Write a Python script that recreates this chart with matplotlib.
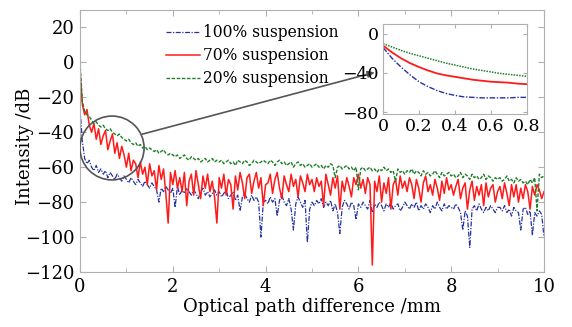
import numpy as np
import matplotlib
matplotlib.use("Agg")
import matplotlib.pyplot as plt
from matplotlib.patches import Ellipse

plt.rcParams['font.family'] = ['DejaVu Serif']
plt.rcParams['mathtext.fontset'] = 'dejavuserif'

# ---- data ----
x_step = 0.05
green_20 = [0, -22, -28, -30, -31, -33, -35, -34, -36, -37, -36, -38, -39, -38, -40, -41, -42, -41, -43, -44, -45,
            -44, -46, -47, -46, -48, -47, -49, -48, -50, -49, -50, -51, -50, -52, -51, -50, -52, -53, -52, -53,
            -54, -53, -55, -54, -53, -55, -56, -54, -55, -56, -55, -57, -56, -55, -57, -56, -55, -57, -56, -57,
            -56, -58, -57, -56, -58, -57, -59, -56, -57, -58, -56, -57, -59, -58, -56, -57, -58, -57, -56, -57,
            -58, -56, -57, -59, -57, -56, -58, -57, -59, -58, -57, -60, -58, -57, -59, -58, -60, -59, -58, -60,
            -59, -58, -60, -59, -61, -59, -60, -58, -59, -66, -60, -59, -61, -60, -59, -61, -60, -62, -60, -73,
            -61, -60, -62, -61, -60, -62, -61, -63, -61, -62, -60, -62, -61, -63, -62, -68, -61, -63, -62, -64,
            -62, -63, -61, -64, -62, -63, -65, -62, -64, -63, -65, -64, -62, -64, -66, -63, -65, -64, -63, -65,
            -64, -66, -65, -63, -66, -64, -65, -67, -64, -66, -65, -67, -66, -64, -67, -65, -66, -68, -66, -67,
            -66, -68, -67, -65, -68, -67, -69, -66, -68, -67, -69, -68, -70, -67, -69, -66, -85, -64, -66, -65]
red_70 = [-5, -24, -30, -27, -36, -40, -35, -44, -38, -47, -42, -39, -50, -45, -41, -52, -46, -55, -48, -53, -60,
          -52, -62, -56, -58, -66, -57, -64, -60, -70, -58, -65, -62, -73, -59, -67, -61, -75, -92, -63, -70,
          -62, -72, -66, -74, -63, -82, -68, -64, -76, -62, -70, -78, -65, -72, -64, -74, -68, -77, -92, -66,
          -72, -64, -76, -67, -70, -84, -65, -73, -63, -69, -78, -66, -64, -75, -68, -63, -72, -66, -82, -70,
          -69, -64, -75, -67, -63, -72, -78, -65, -70, -74, -64, -71, -67, -77, -65, -69, -74, -64, -70, -67,
          -74, -66, -71, -68, -82, -64, -70, -76, -66, -72, -65, -84, -68, -74, -66, -71, -77, -66, -70, -64,
          -72, -67, -75, -66, -70, -116, -68, -74, -65, -80, -69, -75, -66, -84, -70, -67, -76, -65, -72, -68,
          -74, -66, -70, -78, -67, -72, -80, -69, -65, -74, -70, -76, -67, -72, -79, -68, -75, -66, -73, -70,
          -76, -71, -67, -78, -72, -69, -84, -73, -68, -79, -71, -76, -70, -82, -69, -77, -72, -70, -80, -74,
          -71, -78, -69, -75, -82, -70, -77, -70, -80, -72, -78, -70, -74, -84, -71, -76, -70, -73, -78, -74]
blue_100 = [-27, -45, -55, -58, -56, -60, -62, -59, -63, -61, -64, -62, -66, -63, -65, -67, -64, -66, -68, -65, -67,
            -69, -66, -68, -70, -67, -69, -71, -68, -70, -72, -69, -71, -73, -80, -72, -74, -71, -73, -75, -72,
            -83, -71, -76, -73, -75, -72, -74, -76, -73, -75, -78, -74, -72, -76, -74, -77, -75, -73, -76, -74,
            -77, -75, -73, -78, -76, -74, -79, -76, -85, -77, -75, -78, -80, -76, -79, -77, -80, -100, -80, -79,
            -81, -77, -80, -78, -88, -79, -76, -80, -82, -78, -84, -96, -81, -77, -80, -83, -79, -103, -84, -80,
            -82, -79, -81, -78, -83, -80, -82, -79, -85, -81, -86, -98, -83, -79, -81, -84, -80, -82, -90, -81,
            -83, -80, -82, -84, -79, -86, -81, -83, -80, -82, -85, -81, -83, -80, -84, -82, -81, -85, -83, -80,
            -82, -84, -81, -83, -80, -85, -82, -84, -81, -83, -86, -82, -84, -80, -83, -85, -81, -84, -82, -83,
            -84, -81, -83, -86, -96, -85, -88, -106, -84, -82, -85, -81, -84, -86, -83, -85, -82, -84, -86, -83,
            -83, -85, -82, -86, -84, -88, -83, -85, -86, -96, -84, -83, -87, -85, -99, -86, -88, -85, -87, -100]

inset_x = [0, 0.05, 0.1, 0.15, 0.2, 0.25, 0.3, 0.35, 0.4, 0.45, 0.5, 0.55, 0.6, 0.65, 0.7, 0.75, 0.8]
inset_green = [-10, -13.5, -17, -20, -22.5, -25, -27.5, -30, -32, -34, -36, -37.5, -39, -40.5, -41.5, -42.5, -43.5]
inset_red = [-12, -19, -25, -30, -34, -37.5, -40.5, -42.5, -44, -45.5, -47, -48, -49, -49.5, -50, -51, -51.5]
inset_blue = [-14, -25, -34, -42, -49, -54, -58, -61, -63, -64.5, -65, -65.5, -65.5, -65.5, -65.5, -65, -65]

labels = ['100% suspension', '70% suspension', '20% suspension']
x_ticks = [0, 2, 4, 6, 8, 10]
y_ticks = [20, 0, -20, -40, -60, -80, -100, -120]

x = np.arange(len(red_70)) * x_step

C_BLUE = '#2633a0'
C_RED = '#ff1a1a'
C_GREEN = '#1f7f2a'
SPINE = '#b0b0b0'

W, H = 572, 327
fig = plt.figure(figsize=(W / 100, H / 100), dpi=100)
ax = fig.add_axes([80 / W, 1 - 272 / H, 464 / W, 262 / H])

ax.plot(x, blue_100, color=C_BLUE, lw=0.9, ls=(0, (4, 1.2, 1, 1.2)), label=labels[0])
ax.plot(x, red_70, color=C_RED, lw=1.1, ls='-', label=labels[1])
ax.plot(x, green_20, color=C_GREEN, lw=1.0, ls=(0, (2.5, 1.2)), label=labels[2])

ax.set_xlim(0, 10)
ax.set_ylim(-120, 30)
ax.set_xticks(x_ticks)
ax.set_xticks([1, 3, 5, 7, 9], minor=True)
ax.set_yticks(y_ticks)
ax.set_yticklabels([str(v).replace('-', '\u2212') for v in y_ticks])
ax.tick_params(direction='in', which='both', top=True, right=True, labelsize=13,
               color=SPINE, length=4, pad=4)
ax.tick_params(which='minor', length=3)
for s in ax.spines.values():
    s.set_color(SPINE)
ax.set_xlabel('Optical path difference /mm', fontsize=13, labelpad=2)
ax.set_ylabel('Intensity /dB', fontsize=13)
ax.yaxis.set_label_coords(-0.10, 0.48)

leg = ax.legend(loc='upper left', bbox_to_anchor=(166 / W, 1 - 24 / H), bbox_transform=fig.transFigure,
                frameon=False, fontsize=11.2, handlelength=2.2, handletextpad=0.2, labelspacing=0.4,
                borderaxespad=0, borderpad=0)

# circle highlighting the early region
cx, cy = 0.69, -49
circ = Ellipse((cx, cy), width=64 / 46.3, height=64 / 1.75, fill=False, ec='#555555', lw=1.2, zorder=5)
ax.add_patch(circ)
ax.annotate('', xy=(6.35, -5.7), xytext=(1.34, -41.1),
            arrowprops=dict(arrowstyle='-|>', color='#555555', lw=1.2, mutation_scale=10, shrinkA=0, shrinkB=0),
            zorder=6)

# inset
ia = fig.add_axes([383 / W, 1 - 114 / H, 144 / W, 90 / H])
ia.plot(inset_x, inset_blue, color=C_BLUE, lw=1.0, ls=(0, (4, 1.2, 1, 1.2)))
ia.plot(inset_x, inset_red, color=C_RED, lw=1.3, ls='-')
ia.plot(inset_x, inset_green, color=C_GREEN, lw=1.1, ls=(0, (1, 0.8)))
ia.set_xlim(0, 0.8)
ia.set_ylim(-82, 10)
ia.set_xticks([0, 0.2, 0.4, 0.6, 0.8])
ia.set_xticklabels(['0', '0.2', '0.4', '0.6', '0.8'])
ia.set_yticks([0, -40, -80])
ia.set_yticklabels(['0', '\u221240', '\u221280'])
ia.tick_params(direction='in', top=True, right=True, labelsize=12.5, color=SPINE, length=3, pad=3)
for s in ia.spines.values():
    s.set_color(SPINE)

fig.savefig('out.png', dpi=100, facecolor='white')
